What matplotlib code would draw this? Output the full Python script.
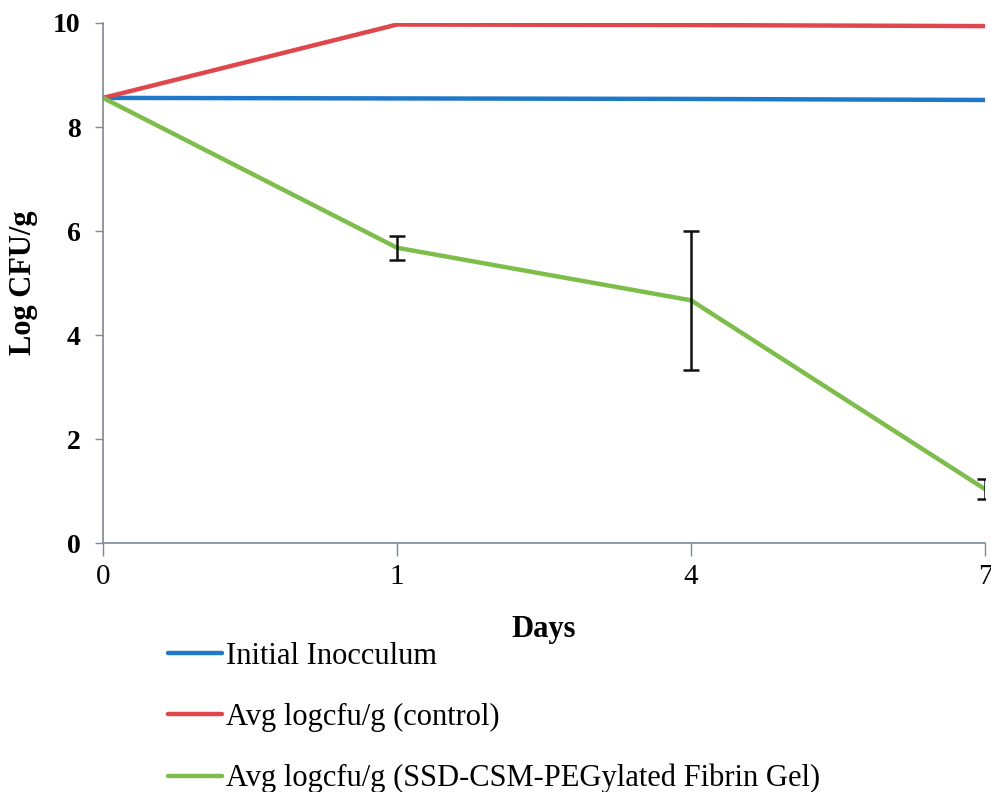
import numpy as np
import matplotlib
matplotlib.use("Agg")
import matplotlib.pyplot as plt

plt.rcParams['font.family'] = ['Liberation Serif', 'DejaVu Serif']

# data
days = ['0', '1', '4', '7']
initial = [8.56, 8.55, 8.54, 8.52]
control = [8.56, 9.97, 9.96, 9.94]
gel = [8.56, 5.68, 4.67, 1.04]
gel_err = [0.0, 0.23, 1.33, 0.19]

x = np.arange(len(days))

fig = plt.figure(figsize=(9.91, 7.92), dpi=100)
ax = fig.add_axes([0.104, 0.314, 0.890, 0.657])

ax.plot(x, initial, color='#1f78c8', lw=3.2, label='Initial Inocculum', solid_capstyle='round')
ax.plot(x, control, color='#e0474c', lw=3.2, label='Avg logcfu/g (control)', solid_capstyle='round')
ax.plot(x, gel, color='#7dbe4a', lw=3.2, label='Avg logcfu/g (SSD-CSM-PEGylated Fibrin Gel)',
        solid_capstyle='round')
err_x = x[1:]
ax.errorbar(err_x, gel[1:], yerr=gel_err[1:], fmt='none', ecolor='#111111',
            elinewidth=1.8, capsize=6, capthick=1.8)

ax.set_xlim(0, len(days) - 1)
ax.set_ylim(0, 10)
ax.set_xticks(x)
ax.set_xticklabels(days, fontsize=21)
ax.set_yticks([0, 2, 4, 6, 8, 10])
ax.set_yticklabels(['0', '2', '4', '6', '8', '10'], fontsize=20, fontweight='bold')
ax.tick_params(axis='y', length=6, width=1, color='#7a8a96', pad=10)
ax.tick_params(axis='x', length=9, width=1, color='#7a8a96', pad=6)

for s in ['top', 'right']:
    ax.spines[s].set_visible(False)
for s in ['left', 'bottom']:
    ax.spines[s].set_color('#7a8a96')
    ax.spines[s].set_linewidth(1.2)

ax.set_xlabel('Days', fontsize=22, fontweight='bold', labelpad=18)
ax.set_ylabel('Log CFU/g', fontsize=22, fontweight='bold', labelpad=11)

fig.legend(loc='upper left', bbox_to_anchor=(0.1695, 0.19), frameon=False,
           fontsize=22, handlelength=1.77, handletextpad=0.13, labelspacing=1.05,
           borderaxespad=0, borderpad=0)

fig.savefig('out.png', dpi=100)
